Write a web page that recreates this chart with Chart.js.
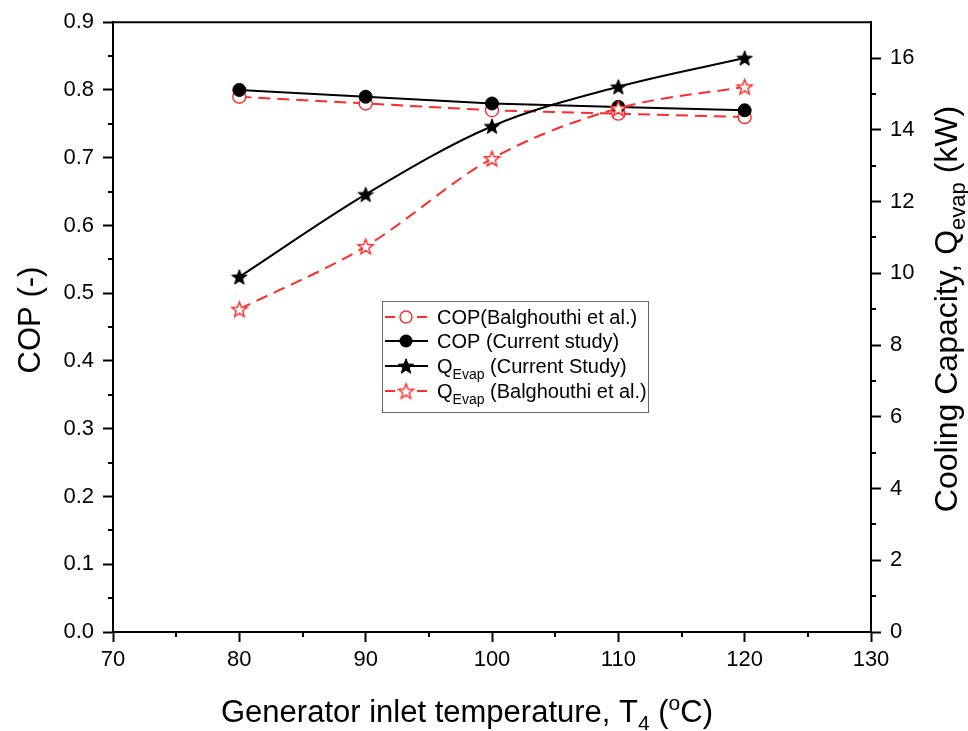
<!DOCTYPE html>
<html>
<head>
<meta charset="utf-8">
<script src="https://cdn.jsdelivr.net/npm/chart.js@4.4.1/dist/chart.umd.min.js"></script>
<style>
html,body{margin:0;padding:0;background:#fff;}
#wrap{width:968px;height:731px;}
</style>
</head>
<body>
<div id="wrap"><canvas id="c" width="968" height="731"></canvas></div>
<script>
// ---- data ----
const temps = [80, 90, 100, 110, 120];
const copBalghouthi = [0.79, 0.78, 0.77, 0.765, 0.76];
const copCurrent = [0.80, 0.79, 0.78, 0.775, 0.77];
const qCurrent = [9.9, 12.2, 14.1, 15.2, 16.0];
const qBalghouthi = [9.0, 10.75, 13.2, 14.6, 15.2];
const legendLabels = ['COP(Balghouthi et al.)', 'COP (Current study)', 'Q|Evap| (Current Study)', 'Q|Evap| (Balghouthi et al.)'];

const FONT = "'Liberation Sans', Arial, sans-serif";
const RED = '#ff2a2a';

function makeStar(size, fill, stroke, lw) {
  const c = document.createElement('canvas');
  c.width = size; c.height = size;
  const g = c.getContext('2d');
  const cx = size / 2, cy = size / 2 + size * 0.04;
  const R = size / 2 - lw, r = R * 0.42;
  g.beginPath();
  for (let i = 0; i < 10; i++) {
    const a = -Math.PI / 2 + i * Math.PI / 5;
    const rr = i % 2 === 0 ? R : r;
    const px = cx + rr * Math.cos(a), py = cy + rr * Math.sin(a);
    if (i === 0) g.moveTo(px, py); else g.lineTo(px, py);
  }
  g.closePath();
  if (fill) { g.fillStyle = fill; g.fill(); }
  if (stroke) { g.lineWidth = lw; g.strokeStyle = stroke; g.stroke(); }
  return c;
}
const blackStar = makeStar(18, '#000', '#000', 1);
const redStar = makeStar(19, '#fff', RED, 1.4);

const pts = (ys) => temps.map((t, i) => ({ x: t, y: ys[i] }));

function drawSegs(ctx, segs, x, y, align) {
  let total = 0;
  segs.forEach(s => { ctx.font = s[1] + 'px ' + FONT; total += ctx.measureText(s[0]).width; });
  let cx = align === 'left' ? x : x - total / 2;
  ctx.textAlign = 'left';
  segs.forEach(s => {
    ctx.font = s[1] + 'px ' + FONT;
    ctx.fillText(s[0], cx, y + s[2]);
    cx += ctx.measureText(s[0]).width;
  });
}

const overlay = {
  id: 'overlay',
  afterDraw(chart) {
    const ctx = chart.ctx;
    const ca = chart.chartArea;
    const xs = chart.scales.x, yl = chart.scales.y, yr = chart.scales.y2;
    ctx.save();
    ctx.strokeStyle = '#000';
    ctx.lineWidth = 2;
    ctx.beginPath(); ctx.moveTo(ca.left - 1, ca.top); ctx.lineTo(ca.right + 1, ca.top); ctx.stroke();
    ctx.beginPath();
    for (let v = 75; v < 130; v += 10) { const p = Math.round(xs.getPixelForValue(v)); ctx.moveTo(p, ca.bottom); ctx.lineTo(p, ca.bottom + 5); }
    for (let v = 0.05; v < 0.9; v += 0.1) { const p = Math.round(yl.getPixelForValue(v)); ctx.moveTo(ca.left, p); ctx.lineTo(ca.left - 5, p); }
    for (let v = 1; v < 17; v += 2) { const p = Math.round(yr.getPixelForValue(v)); ctx.moveTo(ca.right, p); ctx.lineTo(ca.right + 5, p); }
    ctx.stroke();

    ctx.fillStyle = '#000';
    ctx.textBaseline = 'alphabetic';
    const main = 31, sub = 21;
    drawSegs(ctx, [['Generator inlet temperature, T', main, 0], ['4', sub, 8], [' (', main, 0], ['o', sub, -12], ['C)', main, 0]], 467, 722);
    ctx.save();
    ctx.translate(40, 320); ctx.rotate(-Math.PI / 2);
    drawSegs(ctx, [['COP (-)', main, 0]], 0, 0);
    ctx.restore();
    ctx.save();
    ctx.translate(957, 309); ctx.rotate(-Math.PI / 2);
    drawSegs(ctx, [['Cooling Capacity, Q', 32, 0], ['evap', 22, 8], [' (kW)', 32, 0]], 0, 0);
    ctx.restore();

    // legend
    const bx = 382, by = 301, bw = 266, bh = 111;
    ctx.lineWidth = 1; ctx.strokeStyle = '#666';
    ctx.strokeRect(bx + 0.5, by + 0.5, bw, bh);
    const rows = [317, 341, 366, 391];
    const styles = [
      { color: RED, dash: [10, 6], marker: 'ocircle' },
      { color: '#000', dash: [], marker: 'circle' },
      { color: '#000', dash: [], marker: 'bstar' },
      { color: RED, dash: [10, 6], marker: 'rstar' }
    ];
    rows.forEach((y, i) => {
      const s = styles[i];
      ctx.save();
      ctx.strokeStyle = s.color; ctx.lineWidth = 2; ctx.setLineDash(s.dash);
      ctx.beginPath(); ctx.moveTo(385, y); ctx.lineTo(428, y); ctx.stroke();
      ctx.setLineDash([]);
      if (s.marker === 'ocircle') {
        ctx.fillStyle = '#fff'; ctx.beginPath(); ctx.arc(406, y, 6, 0, Math.PI * 2); ctx.fill();
        ctx.lineWidth = 1.4; ctx.strokeStyle = RED; ctx.stroke();
      } else if (s.marker === 'circle') {
        ctx.fillStyle = '#000'; ctx.beginPath(); ctx.arc(406, y, 6.5, 0, Math.PI * 2); ctx.fill();
      } else if (s.marker === 'bstar') {
        ctx.drawImage(blackStar, 406 - 9, y - 9);
      } else {
        ctx.fillStyle = '#fff'; ctx.fillRect(398, y - 9, 17, 18);
        ctx.drawImage(redStar, 406 - 9.5, y - 9.5);
      }
      ctx.restore();
      const parts = legendLabels[i].split('|');
      const segs = [];
      parts.forEach((p, k) => segs.push([p, k === 1 ? 14 : 20, k === 1 ? 6 : 0]));
      ctx.fillStyle = '#000';
      drawSegs(ctx, segs, 437, y + 7, 'left');
    });
    ctx.restore();
  }
};

const tickFont = { family: FONT, size: 22 };
const grid = { drawOnChartArea: false, drawTicks: true, tickLength: 10, tickWidth: 2, color: '#000' };
const border = { display: true, color: '#000', width: 2 };

new Chart(document.getElementById('c'), {
  type: 'line',
  data: {
    datasets: [
      {
        label: 'QEvap (Balghouthi et al.)', data: pts(qBalghouthi), yAxisID: 'y2', order: 0,
        borderColor: RED, borderWidth: 2, borderDash: [12, 7], cubicInterpolationMode: 'monotone',
        pointStyle: redStar, pointRadius: 9
      },
      {
        label: 'QEvap (Current Study)', data: pts(qCurrent), yAxisID: 'y2', order: 1,
        borderColor: '#000', borderWidth: 2, cubicInterpolationMode: 'monotone',
        pointStyle: blackStar, pointRadius: 9
      },
      {
        label: 'COP (Current study)', data: pts(copCurrent), yAxisID: 'y', order: 2,
        borderColor: '#000', borderWidth: 2, tension: 0,
        pointStyle: 'circle', pointRadius: 6.5, pointBackgroundColor: '#000', pointBorderColor: '#000', pointBorderWidth: 1
      },
      {
        label: 'COP(Balghouthi et al.)', data: pts(copBalghouthi), yAxisID: 'y', order: 3,
        borderColor: RED, borderWidth: 2, borderDash: [12, 7], tension: 0,
        pointStyle: 'circle', pointRadius: 6.5, pointBackgroundColor: '#fff', pointBorderColor: RED, pointBorderWidth: 1.4
      }
    ]
  },
  options: {
    responsive: false,
    animation: false,
    layout: { padding: { top: 20, left: 0, right: 0, bottom: 0 } },
    plugins: { legend: { display: false }, tooltip: { enabled: false } },
    scales: {
      x: {
        type: 'linear', min: 70, max: 130,
        ticks: { stepSize: 10, font: tickFont, color: '#000', padding: 5 },
        grid: grid, border: border,
        afterFit(s) { s.height = 99; }
      },
      y: {
        type: 'linear', position: 'left', min: 0, max: 0.9,
        ticks: { stepSize: 0.1, font: tickFont, color: '#000', padding: 9, callback: v => v.toFixed(1) },
        grid: grid, border: border,
        afterFit(s) { s.width = 113; }
      },
      y2: {
        type: 'linear', position: 'right', min: 0, max: 17,
        ticks: { stepSize: 2, font: tickFont, color: '#000', padding: 9, callback: v => (v % 2 === 0 ? String(v) : '') },
        afterBuildTicks(s) { s.ticks = s.ticks.filter(t => t.value % 2 === 0); },
        grid: grid, border: border,
        afterFit(s) { s.width = 97; }
      }
    }
  },
  plugins: [overlay]
});
</script>
</body>
</html>
